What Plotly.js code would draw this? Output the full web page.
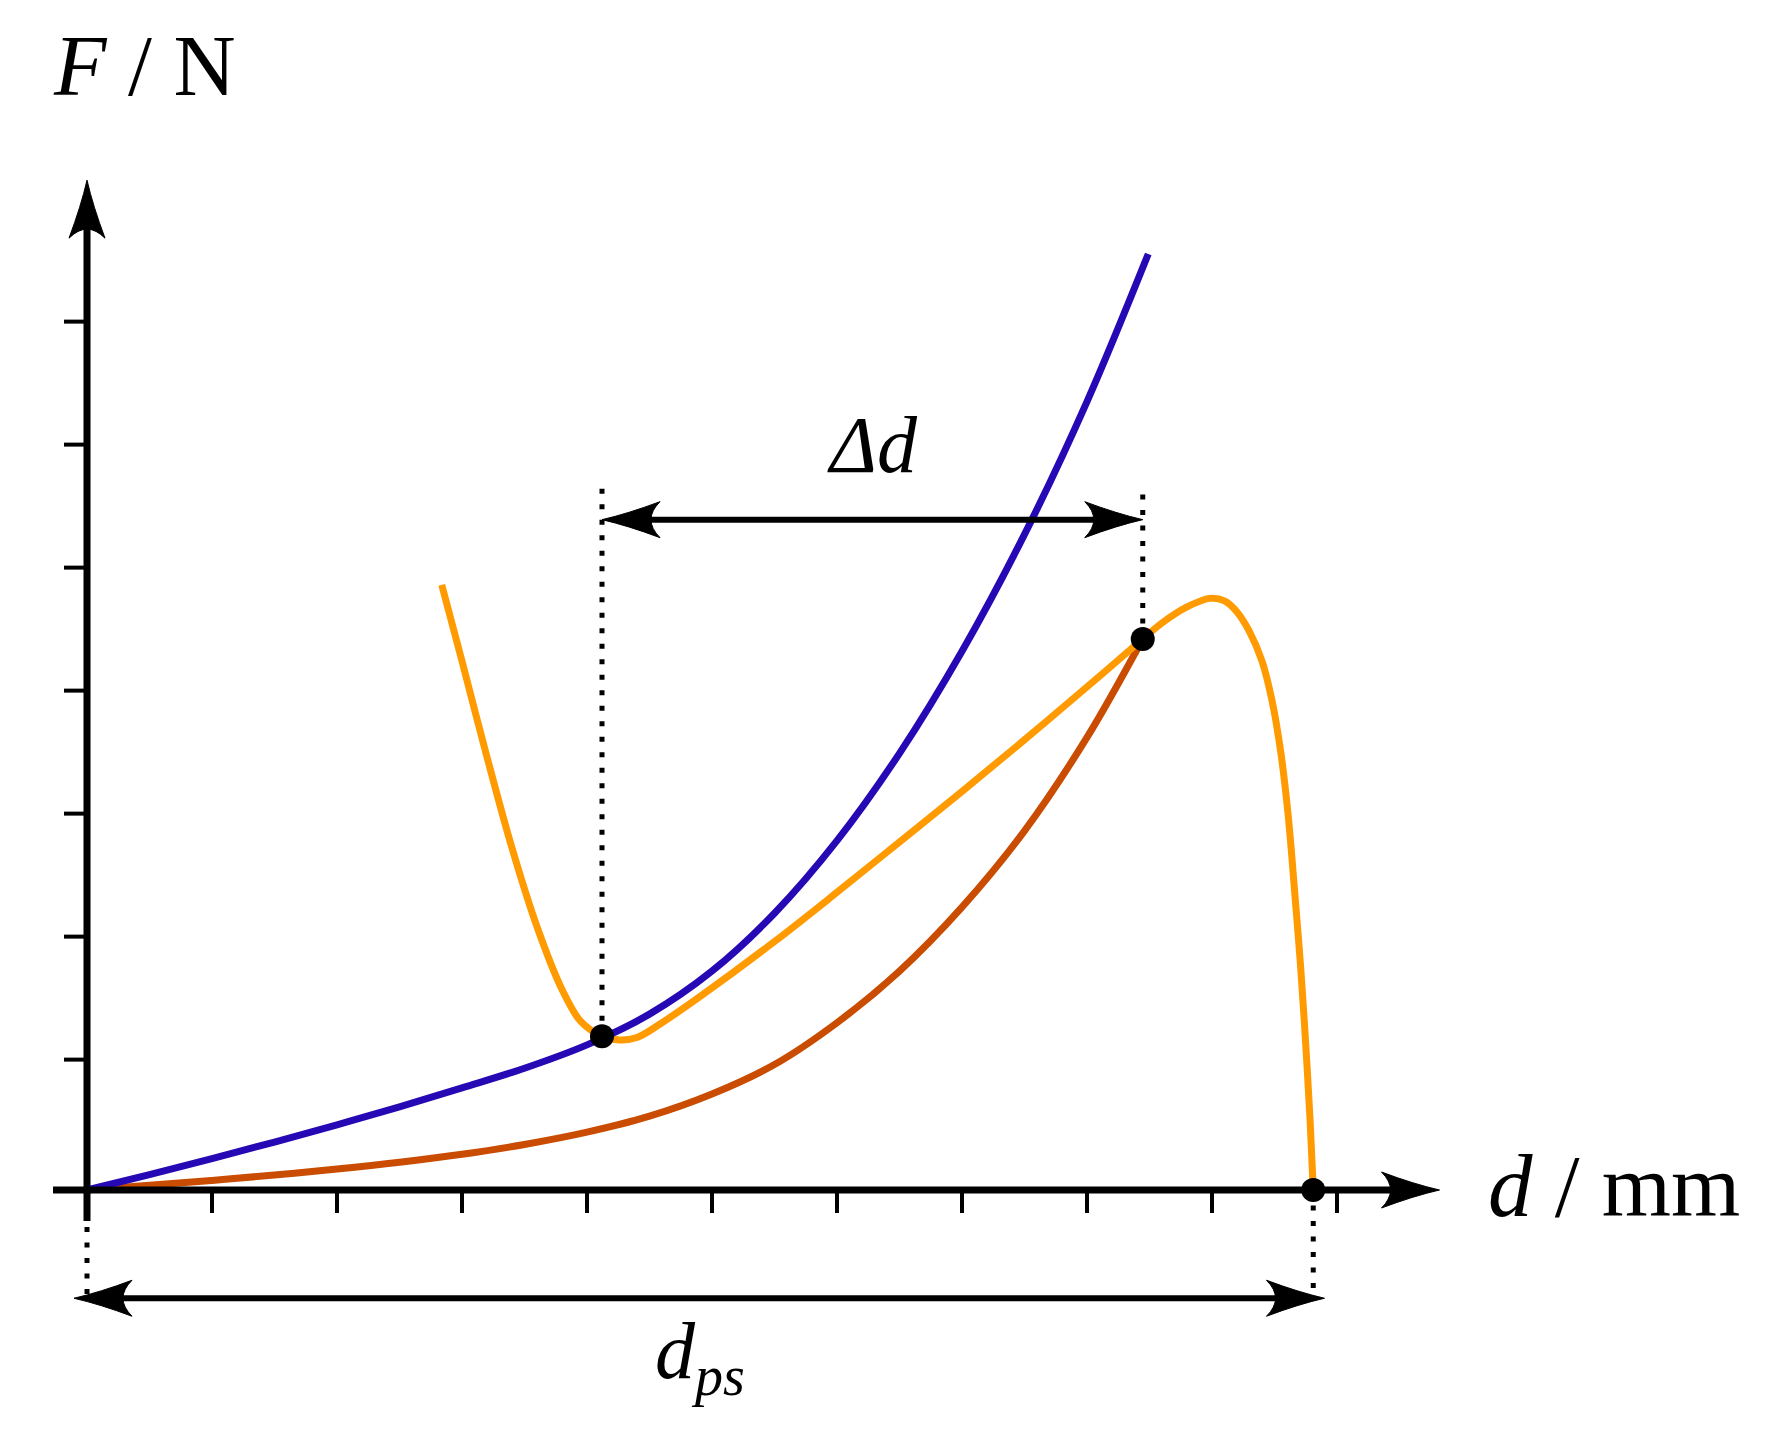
<!DOCTYPE html>
<html>
<head>
<meta charset="utf-8">
<script src="https://cdn.plot.ly/plotly-3.0.1.min.js"></script>
<style>html,body{margin:0;padding:0;background:#fff;}#chart{width:1765px;height:1441px;}</style>
</head>
<body>
<div id="chart"></div>
<script>
// ---- data (x in d-units, y in F-units) ----
const blueX = [0, 0.5, 1.0, 1.5, 2.0, 2.5, 3.0, 3.5, 4.0, 4.5, 5.0, 5.5, 6.0, 6.5, 7.0, 7.5, 8.0, 8.49];
const blueY = [0, 0.125, 0.255, 0.39, 0.53, 0.675, 0.83, 0.99, 1.18, 1.43, 1.78, 2.25, 2.84, 3.55, 4.38, 5.33, 6.41, 7.61];

const redX = [0, 0.5, 1.0, 1.5, 2.0, 2.5, 3.0, 3.5, 4.0, 4.5, 5.0, 5.5, 6.0, 6.5, 7.0, 7.5, 8.0, 8.446];
const redY = [0, 0.038, 0.078, 0.122, 0.17, 0.225, 0.29, 0.37, 0.47, 0.60, 0.78, 1.02, 1.36, 1.78, 2.30, 2.92, 3.68, 4.48];

const orangeX = [2.838, 3.0, 3.2, 3.4, 3.6, 3.8, 3.95, 4.12, 4.26, 4.40, 4.60, 4.90, 5.5, 6.0, 6.5, 7.0, 7.5, 8.0, 8.446, 8.6, 8.8, 8.98, 9.1, 9.2, 9.3, 9.4, 9.48, 9.55, 9.61, 9.66, 9.71, 9.75, 9.785, 9.81];
const orangeY = [4.92, 4.30, 3.52, 2.78, 2.14, 1.63, 1.37, 1.25, 1.22, 1.24, 1.36, 1.57, 2.02, 2.42, 2.83, 3.24, 3.66, 4.09, 4.48, 4.61, 4.74, 4.81, 4.79, 4.70, 4.54, 4.30, 3.98, 3.56, 3.04, 2.44, 1.80, 1.18, 0.56, 0];

const pointX = [4.12, 8.446, 9.81];
const pointY = [1.25, 4.48, 0];

const xTicks = [1, 2, 3, 4, 5, 6, 7, 8, 9, 10];
const yTicks = [1.06, 2.06, 3.06, 4.06, 5.06, 6.06, 7.06];

const xAxisEnd = 10.82, yAxisEnd = 8.21;
const deltaArrowY = 5.45, dpsArrowY = -0.88;
const dpsArrowX = [-0.104, 9.90];

// ---- layout geometry (pixels) ----
const W = 1765, H = 1441;
const ox = 87, oy = 1190, ux = 125, uy = 123;
const xRange = [-ox / ux, (W - ox) / ux];
const yRange = [-(H - oy) / uy, oy / uy];
const px = p => p / ux, py = p => p / uy;

const BLUE = '#2608b4', RED = '#c94c00', ORANGE = '#ff9a00', BLACK = '#000';

function tickTrace() {
  const x = [], y = [];
  xTicks.forEach(t => { x.push(t, t, null); y.push(0, -py(23), null); });
  yTicks.forEach(t => { x.push(0, -px(23), null); y.push(t, t, null); });
  return {type: 'scatter', mode: 'lines', x: x, y: y, line: {color: BLACK, width: 4}, hoverinfo: 'skip', showlegend: false};
}

const traces = [
  tickTrace(),
  {type: 'scatter', mode: 'lines', x: redX, y: redY, line: {color: RED, width: 7, shape: 'spline', smoothing: 1}, showlegend: false},
  {type: 'scatter', mode: 'lines', x: orangeX, y: orangeY, line: {color: ORANGE, width: 7, shape: 'spline', smoothing: 1}, showlegend: false},
  {type: 'scatter', mode: 'lines', x: blueX, y: blueY, line: {color: BLUE, width: 7, shape: 'spline', smoothing: 1}, showlegend: false},
  {type: 'scatter', mode: 'markers', x: pointX, y: pointY, marker: {color: BLACK, size: 24}, showlegend: false}
];

const dots = '5px,10.5px';
function line(x0, y0, x1, y1, w, dash) {
  return {type: 'line', xref: 'x', yref: 'y', x0: x0, y0: y0, x1: x1, y1: y1, line: {color: BLACK, width: w, dash: dash || 'solid'}, layer: 'above'};
}
// stealth arrow head, pointing to +x (pixel path, y up)
function headPath(dir) {
  const L = 58, Wd = 18;
  let pts = [[0, 0], [-26, 6], [-L, Wd], [-40, 0], [-L, -Wd], [-26, -6]];
  const rot = {right: p => p, left: p => [-p[0], p[1]], up: p => [p[1], p[0]]}[dir];
  pts = pts.map(rot);
  const P = p => p[0].toFixed(1) + ',' + p[1].toFixed(1);
  return 'M' + P(pts[0]) + ' Q' + P(pts[1]) + ' ' + P(pts[2]) + ' Q' + P(pts[3]) + ' ' + P(pts[4]) + ' Q' + P(pts[5]) + ' ' + P(pts[0]) + ' Z';
}
function head(x, y, dir) {
  return {type: 'path', xref: 'x', yref: 'y', xsizemode: 'pixel', ysizemode: 'pixel', xanchor: x, yanchor: y,
          path: headPath(dir), fillcolor: BLACK, line: {color: BLACK, width: 1}, layer: 'above'};
}

const shapes = [
  // axes
  line(-px(34), 0, xAxisEnd - px(30), 0, 7),
  line(0, -py(31), 0, yAxisEnd - py(30), 7),
  head(xAxisEnd, 0, 'right'),
  head(0, yAxisEnd, 'up'),
  // dotted guides
  line(pointX[0], pointY[0], pointX[0], 5.72, 5, dots),
  line(pointX[1], pointY[1], pointX[1], 5.67, 5, dots),
  line(0, -py(37), 0, dpsArrowY, 5, dots),
  line(pointX[2], pointY[2], pointX[2], dpsArrowY, 5, dots),
  // delta d arrow
  line(pointX[0] + px(30), deltaArrowY, pointX[1] - px(30), deltaArrowY, 6),
  head(pointX[0], deltaArrowY, 'left'),
  head(pointX[1], deltaArrowY, 'right'),
  // d_ps arrow
  line(dpsArrowX[0] + px(30), dpsArrowY, dpsArrowX[1] - px(30), dpsArrowY, 6),
  head(dpsArrowX[0], dpsArrowY, 'left'),
  head(dpsArrowX[1], dpsArrowY, 'right')
];

const FONT = 'Liberation Serif, Times New Roman, serif';
const annotations = [
  {x: -px(36), y: py(1190 - 66), xref: 'x', yref: 'y', text: '<i>F</i> / N', showarrow: false, xanchor: 'left', yanchor: 'middle', font: {family: FONT, size: 86, color: BLACK}},
  {x: px(1492 - 87) - px(6), y: py(4), xref: 'x', yref: 'y', text: '<i>d</i> / mm', showarrow: false, xanchor: 'left', yanchor: 'middle', font: {family: FONT, size: 89, color: BLACK}},
  {x: 6.28, y: 6.06, xref: 'x', yref: 'y', text: '<i>Δd</i>', showarrow: false, xanchor: 'center', yanchor: 'middle', font: {family: FONT, size: 80, color: BLACK}},
  {x: 4.9, y: -1.36, xref: 'x', yref: 'y', text: '<i>d</i><sub><i>ps</i></sub>', showarrow: false, xanchor: 'center', yanchor: 'middle', font: {family: FONT, size: 80, color: BLACK}}
];

const layout = {
  width: W, height: H,
  margin: {l: 0, r: 0, t: 0, b: 0, pad: 0},
  paper_bgcolor: '#fff', plot_bgcolor: '#fff',
  xaxis: {range: xRange, visible: false, fixedrange: true},
  yaxis: {range: yRange, visible: false, fixedrange: true},
  shapes: shapes,
  annotations: annotations,
  showlegend: false
};

Plotly.newPlot('chart', traces, layout, {staticPlot: true, displayModeBar: false});
</script>
</body>
</html>
